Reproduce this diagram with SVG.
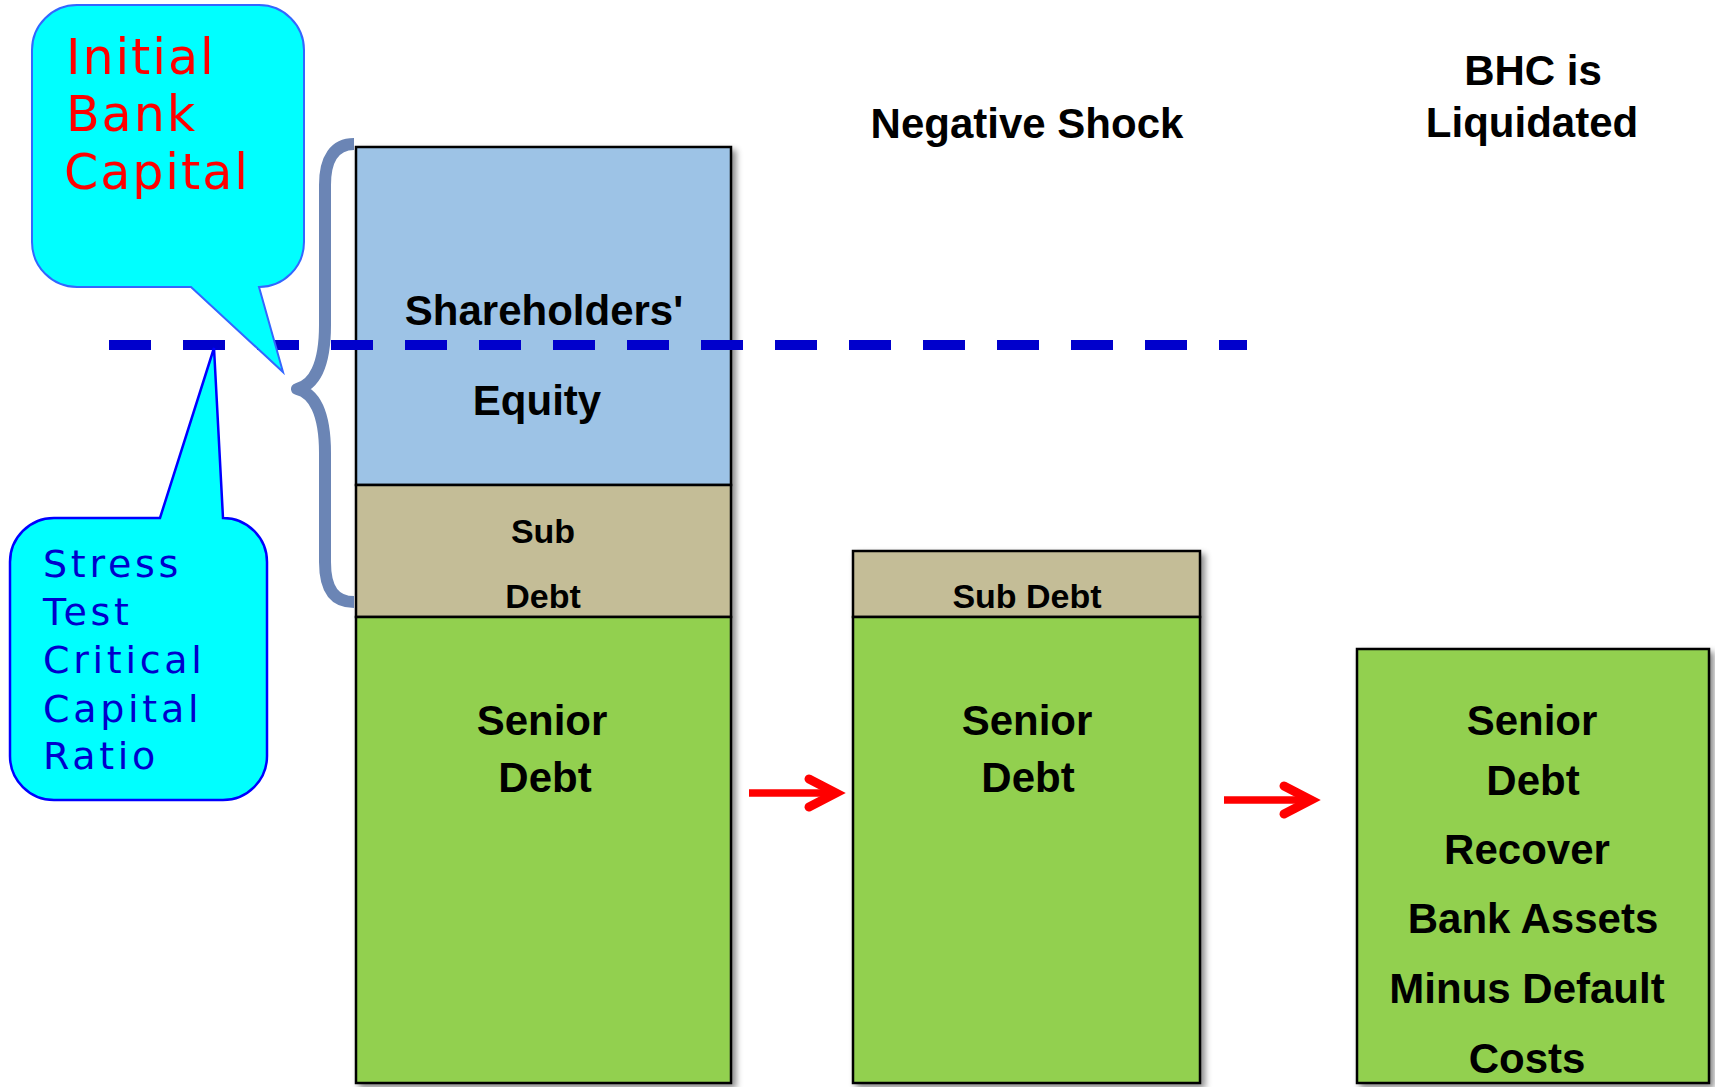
<svg xmlns="http://www.w3.org/2000/svg" width="1715" height="1087" viewBox="0 0 1715 1087">
<style>
.lbl{font-family:"Liberation Sans",Arial,sans-serif;font-weight:bold;fill:#000;text-anchor:middle}
.big{font-size:42px}
.small{font-size:34px}
.eq{fill:#9DC3E6;stroke:#000;stroke-width:2.5}
.sub{fill:#C4BD97;stroke:#000;stroke-width:2.5}
.sen{fill:#92D050;stroke:#000;stroke-width:2.5}
.call1{fill:#00FFFF;stroke:#3366FF;stroke-width:2}
.call2{fill:#00FFFF;stroke:#0000FF;stroke-width:2.5}
.ctxt1{font-family:"DejaVu Sans",Verdana,sans-serif;font-size:49px;fill:#FF0000;letter-spacing:2px}
.ctxt2{font-family:"DejaVu Sans",Verdana,sans-serif;font-size:38px;fill:#0000CC;letter-spacing:3.7px}
.arrow{stroke:#FF0000;fill:none;stroke-width:7.5}
.head{stroke:#FF0000;fill:none;stroke-width:9;stroke-linecap:round;stroke-linejoin:miter}
</style>
<defs>
<filter id="sh" x="-5%" y="-5%" width="115%" height="115%">
<feDropShadow dx="4" dy="4" stdDeviation="3" flood-color="#000" flood-opacity="0.45"/>
</filter>
</defs>

<g id="titles">
<text class="lbl big" x="1027" y="138">Negative Shock</text>
<text class="lbl big" x="1533" y="85">BHC is</text>
<text class="lbl big" x="1532" y="137">Liquidated</text>
</g>

<g id="bank-initial" filter="url(#sh)">
<rect class="eq" x="356" y="147" width="375" height="338"/>
<rect class="sub" x="356" y="485" width="375" height="132"/>
<rect class="sen" x="356" y="617" width="375" height="466"/>
</g>
<g id="bank-initial-text">
<text class="lbl big" x="544" y="325">Shareholders'</text>
<text class="lbl big" x="537" y="415">Equity</text>
<text class="lbl small" x="543" y="543">Sub</text>
<text class="lbl small" x="543" y="608">Debt</text>
<text class="lbl big" x="542" y="735">Senior</text>
<text class="lbl big" x="545" y="792">Debt</text>
</g>

<g id="bank-shock" filter="url(#sh)">
<rect class="sub" x="853" y="551" width="347" height="66"/>
<rect class="sen" x="853" y="617" width="347" height="466"/>
</g>
<g id="bank-shock-text">
<text class="lbl small" x="1027" y="608">Sub Debt</text>
<text class="lbl big" x="1027" y="735">Senior</text>
<text class="lbl big" x="1028" y="792">Debt</text>
</g>

<g id="bank-liquidated" filter="url(#sh)">
<rect class="sen" x="1357" y="649" width="352" height="434"/>
</g>
<g id="bank-liquidated-text">
<text class="lbl big" x="1532" y="735">Senior</text>
<text class="lbl big" x="1533" y="795">Debt</text>
<text class="lbl big" x="1527" y="864">Recover</text>
<text class="lbl big" x="1533" y="933">Bank Assets</text>
<text class="lbl big" x="1527" y="1003">Minus Default</text>
<text class="lbl big" x="1527" y="1073">Costs</text>
</g>

<g id="connectors">
<path d="M109,345 H1247" stroke="#0000CC" stroke-width="10" stroke-dasharray="42 32" fill="none"/>
<path d="M354,144 C335,144 325,158 325,185 L325,325 C325,365 314,385 297,389 C314,393 325,413 325,453 L325,562 C325,590 335,602 354,602" stroke="#6B85B5" stroke-width="12" fill="none" stroke-linejoin="round"/>
<path class="arrow" d="M749,793 H830"/>
<path class="head" d="M809,779 L836,793 L809,807"/>
<path class="arrow" d="M1224,800 H1305"/>
<path class="head" d="M1284,786 L1311,800 L1284,814"/>
</g>

<g id="callout-initial">
<path class="call1" d="M77,5 H259 A45,45 0 0 1 304,50 V242 A45,45 0 0 1 259,287 L283,372 L191,287 H77 A45,45 0 0 1 32,242 V50 A45,45 0 0 1 77,5 Z"/>
<text class="ctxt1" x="66" y="74">Initial</text>
<text class="ctxt1" x="66" y="131">Bank</text>
<text class="ctxt1" x="64" y="189">Capital</text>
</g>

<g id="callout-stress">
<path class="call2" d="M54,518 H160 L214,348 L223,518 A44,44 0 0 1 267,562 V756 A44,44 0 0 1 223,800 H54 A44,44 0 0 1 10,756 V562 A44,44 0 0 1 54,518 Z"/>
<text class="ctxt2" x="43" y="577">Stress</text>
<text class="ctxt2" x="43" y="625">Test</text>
<text class="ctxt2" x="43" y="673">Critical</text>
<text class="ctxt2" x="43" y="722">Capital</text>
<text class="ctxt2" x="43" y="769">Ratio</text>
</g>
</svg>
